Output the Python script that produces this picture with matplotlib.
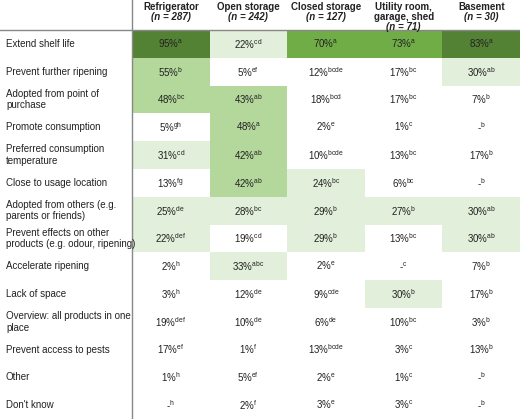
import matplotlib
matplotlib.use("Agg")
import matplotlib.pyplot as plt
from matplotlib.patches import Rectangle

plt.rcParams['font.family'] = ['Liberation Sans', 'DejaVu Sans']
plt.rcParams['mathtext.fontset'] = 'custom'
plt.rcParams['mathtext.rm'] = 'Liberation Sans'
plt.rcParams['mathtext.it'] = 'Liberation Sans:italic'

columns = ["Refrigerator", "Open storage", "Closed storage", "Utility room,\ngarage, shed", "Basement"]
col_n = ["(n = 287)", "(n = 242)", "(n = 127)", "(n = 71)", "(n = 30)"]
rows = ["Extend shelf life", "Prevent further ripening", "Adopted from point of\npurchase",
        "Promote consumption", "Preferred consumption\ntemperature", "Close to usage location",
        "Adopted from others (e.g.\nparents or friends)", "Prevent effects on other\nproducts (e.g. odour, ripening)",
        "Accelerate ripening", "Lack of space", "Overview: all products in one\nplace",
        "Prevent access to pests", "Other", "Don't know"]
values = [
    [95, 22, 70, 73, 83],
    [55, 5, 12, 17, 30],
    [48, 43, 18, 17, 7],
    [5, 48, 2, 1, None],
    [31, 42, 10, 13, 17],
    [13, 42, 24, 6, None],
    [25, 28, 29, 27, 30],
    [22, 19, 29, 13, 30],
    [2, 33, 2, None, 7],
    [3, 12, 9, 30, 17],
    [19, 10, 6, 10, 3],
    [17, 1, 13, 3, 13],
    [1, 5, 2, 1, None],
    [None, 2, 3, 3, None],
]
letters = [
    ["a", "cd", "a", "a", "a"],
    ["b", "ef", "bcde", "bc", "ab"],
    ["bc", "ab", "bcd", "bc", "b"],
    ["gh", "a", "e", "c", "b"],
    ["cd", "ab", "bcde", "bc", "b"],
    ["fg", "ab", "bc", "bc", "b"],
    ["de", "bc", "b", "b", "ab"],
    ["def", "cd", "b", "bc", "ab"],
    ["h", "abc", "e", "c", "b"],
    ["h", "de", "cde", "b", "b"],
    ["def", "de", "de", "bc", "b"],
    ["ef", "f", "bcde", "c", "b"],
    ["h", "ef", "e", "c", "b"],
    ["h", "f", "e", "c", "b"],
]

def color(v):
    if v is None or v < 20: return None
    if v >= 80: return "#548235"
    if v >= 60: return "#70ad47"
    if v >= 40: return "#b4d79c"
    return "#e2efda"

W, H = 520, 419
fig = plt.figure(figsize=(5.2, 4.19), dpi=100)
ax = fig.add_axes([0, 0, 1, 1])
ax.set_xlim(0, W); ax.set_ylim(H, 0); ax.axis('off')

x0, cw = 132, (W - 132) / 5
top, rh = 30, (H - 30) / 14

for i, r in enumerate(rows):
    y = top + i * rh
    ax.text(6, y + rh / 2, r, ha='left', va='center', fontsize=7, color='#222')
    for j in range(5):
        v = values[i][j]
        c = color(v)
        if c:
            ax.add_patch(Rectangle((x0 + j * cw, y), cw, rh, color=c, lw=0))
        s = (f"{v}%" if v is not None else "-") + r"$^{\mathrm{" + letters[i][j] + "}}$"
        ax.text(x0 + (j + 0.5) * cw, y + rh / 2, s, ha='center', va='center', fontsize=7, color='#222')

for j in range(5):
    cx = x0 + (j + 0.5) * cw
    ax.text(cx, 2, columns[j], ha='center', va='top', fontsize=7, fontweight='bold', color='#222', linespacing=1.05)
    ny = 12 if "\n" not in columns[j] else 22
    ax.text(cx, ny, col_n[j], ha='center', va='top', fontsize=7, fontweight='bold', style='italic', color='#222')

ax.plot([0, W], [top, top], color='#888', lw=1)
ax.plot([x0, x0], [0, H], color='#888', lw=1)

fig.savefig("out.png", dpi=100)
